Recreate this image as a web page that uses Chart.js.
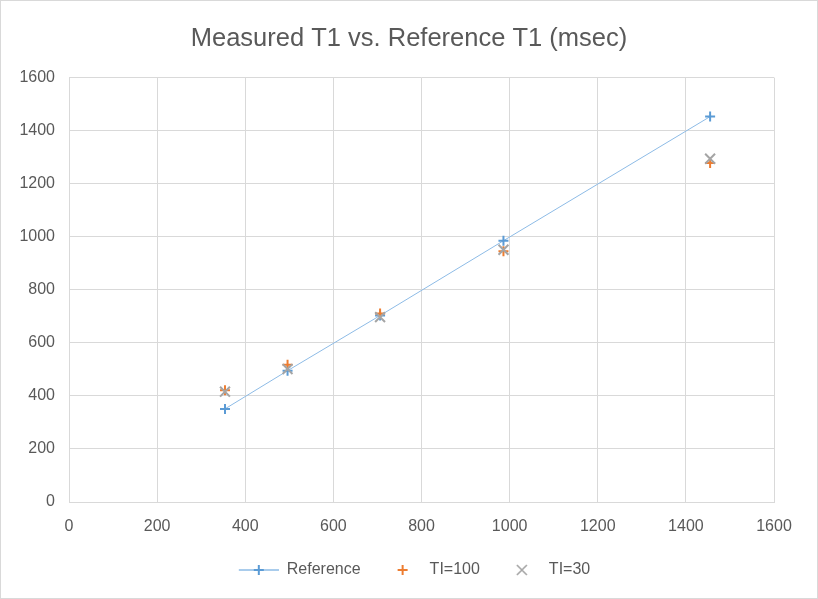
<!DOCTYPE html>
<html>
<head>
<meta charset="utf-8">
<script src="https://cdn.jsdelivr.net/npm/chart.js@4"></script>
<style>
  html, body { margin: 0; padding: 0; background: #fff; }
  #wrap { position: relative; width: 816px; height: 597px; border: 1px solid #d9d9d9; }
</style>
</head>
<body>
<div id="wrap"><canvas id="chart"></canvas></div>
<script>
// values
var refX = [354, 496, 706, 986, 1455];
var refY = [351, 495, 703, 985, 1453];
var ti100Y = [421, 517, 711, 945, 1278];
var ti30Y = [416, 501, 697, 951, 1294];
var seriesNames = ['Reference', 'TI=100', 'TI=30'];
var axisTicks = [0, 200, 400, 600, 800, 1000, 1200, 1400, 1600];

var refLine = '#8dbbe6';
var refMark = '#5b9bd5';
var orange = '#ed7d31';
var silver = '#a5a5a5';

function pairs(xs, ys) {
    return xs.map(function (x, i) { return { x: x, y: ys[i] }; });
}

// legend symbols: 51px boxes, the first 11px left blank as gap between entries
function legendMark(kind) {
    var c = document.createElement('canvas');
    c.width = 51; c.height = 12;
    var g = c.getContext('2d');
    if (kind === 'ref') {
        g.strokeStyle = refLine;
        g.lineWidth = 1.5;
        g.beginPath(); g.moveTo(11, 6); g.lineTo(51, 6); g.stroke();
        g.strokeStyle = refMark;
        g.lineWidth = 2;
        g.beginPath(); g.moveTo(26, 6); g.lineTo(36, 6); g.moveTo(31, 1); g.lineTo(31, 11); g.stroke();
    } else if (kind === 'plus') {
        g.strokeStyle = orange;
        g.lineWidth = 2;
        g.beginPath(); g.moveTo(27, 6); g.lineTo(37, 6); g.moveTo(32, 1); g.lineTo(32, 11); g.stroke();
    } else {
        g.strokeStyle = silver;
        g.lineWidth = 1.6;
        g.beginPath(); g.moveTo(27, 1); g.lineTo(37, 11); g.moveTo(37, 1); g.lineTo(27, 11); g.stroke();
    }
    return c;
}

var font = "'Liberation Sans', Arial, sans-serif";
var grey = '#595959';

window.onload = function () {
    var marks = [legendMark('ref'), legendMark('plus'), legendMark('x')];
    var ctx = document.getElementById('chart').getContext('2d');
    window.theChart = new Chart(ctx, {
        type: 'scatter',
        data: {
            datasets: [{
                label: seriesNames[0],
                data: pairs(refX, refY),
                showLine: true,
                borderColor: refLine,
                borderWidth: 1,
                pointStyle: 'cross',
                pointRadius: 5,
                pointBorderColor: refMark,
                pointBorderWidth: 2,
                order: 3
            }, {
                label: seriesNames[1],
                data: pairs(refX, ti100Y),
                pointStyle: 'cross',
                pointRadius: 5,
                borderColor: orange,
                pointBorderWidth: 2,
                order: 2
            }, {
                label: seriesNames[2],
                data: pairs(refX, ti30Y),
                pointStyle: 'crossRot',
                pointRadius: 7,
                borderColor: silver,
                pointBorderWidth: 2,
                order: 1
            }]
        },
        options: {
            responsive: true,
            maintainAspectRatio: false,
            animation: false,
            layout: { padding: { left: 0, right: 0, top: 11, bottom: 10 } },
            plugins: {
                title: {
                    display: true,
                    text: 'Measured T1 vs. Reference T1 (msec)',
                    color: grey,
                    font: { family: font, size: 25.5, weight: 'normal' },
                    padding: { top: 12, bottom: 23 }
                },
                legend: {
                    position: 'bottom',
                    labels: {
                        color: grey,
                        font: { family: font, size: 16 },
                        usePointStyle: true,
                        pointStyleWidth: 51,
                        boxHeight: 12,
                        padding: 10,
                        sort: function (a, b) { return a.datasetIndex - b.datasetIndex; },
                        generateLabels: function (chart) {
                            var items = Chart.defaults.plugins.legend.labels.generateLabels(chart);
                            items.forEach(function (it) { it.pointStyle = marks[it.datasetIndex]; });
                            return items;
                        }
                    }
                },
                tooltip: { enabled: false }
            },
            scales: {
                x: {
                    type: 'linear',
                    min: 0, max: 1600,
                    afterBuildTicks: function (s) { s.ticks = axisTicks.map(function (v) { return { value: v }; }); },
                    afterFit: function (s) { s.height = 50; },
                    grid: { color: '#d9d9d9', drawTicks: false },
                    border: { display: true, color: '#d9d9d9' },
                    ticks: { color: grey, font: { family: font, size: 16 }, padding: 15,
                             callback: function (v) { return String(v); } }
                },
                y: {
                    type: 'linear',
                    min: 0, max: 1600,
                    afterBuildTicks: function (s) { s.ticks = axisTicks.map(function (v) { return { value: v }; }); },
                    afterFit: function (s) { s.width = 68; },
                    grid: { color: '#d9d9d9', drawTicks: false },
                    border: { display: false },
                    ticks: { color: grey, font: { family: font, size: 16 }, padding: 14,
                             callback: function (v) { return String(v); } }
                },
                // empty right-hand margin so the plot and title sit where they do in the picture
                yRight: {
                    type: 'linear',
                    position: 'right',
                    min: 0, max: 1600,
                    afterFit: function (s) { s.width = 43; },
                    grid: { display: false },
                    border: { display: false },
                    ticks: { display: false }
                }
            }
        }
    });
};
</script>
</body>
</html>
